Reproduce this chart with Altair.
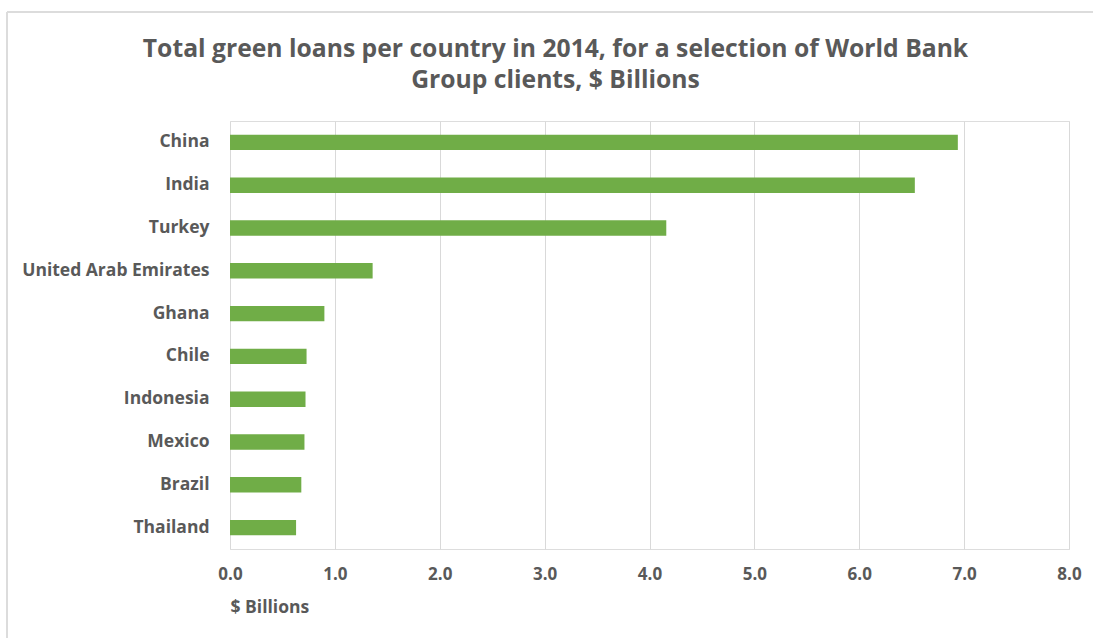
import altair as alt
import pandas as pd

countries = ["China", "India", "Turkey", "United Arab Emirates", "Ghana",
             "Chile", "Indonesia", "Mexico", "Brazil", "Thailand"]
loans = [6.94, 6.53, 4.16, 1.36, 0.90, 0.73, 0.72, 0.71, 0.68, 0.63]
x_ticks = [0, 1, 2, 3, 4, 5, 6, 7, 8]

df = pd.DataFrame({"country": countries, "loans": loans})

FONT = "Open Sans"
GREY = "#595959"

bars = alt.Chart(df).mark_bar(color="#70ad47").encode(
    x=alt.X("loans:Q",
            scale=alt.Scale(domain=[0, 8], nice=False),
            axis=alt.Axis(values=x_ticks, format=".1f", title="$ Billions",
                          titleAnchor="start", titleAlign="left",
                          titleFont=FONT, titleFontSize=17.5, titleFontWeight="bold",
                          titleColor=GREY, titlePadding=16,
                          labelFont=FONT, labelFontSize=17, labelFontWeight="bold",
                          labelColor=GREY, labelPadding=17, labelFlush=False,
                          ticks=False, domain=False,
                          grid=True, gridColor="#d9d9d9", gridWidth=1)),
    y=alt.Y("country:N", sort=countries,
            scale=alt.Scale(paddingInner=0.64, paddingOuter=0.32),
            axis=alt.Axis(title=None, ticks=False, domain=False, labelLimit=400,
                          labelFont=FONT, labelFontSize=17.5, labelFontWeight="bold",
                          labelColor=GREY, labelPadding=21)),
)

frame_v = alt.Chart(df).mark_rule(color="#dcdcdc", strokeWidth=2).encode(
    x=alt.value(-223), y=alt.value(-109), y2=alt.value(520)
)
frame_h = alt.Chart(df).mark_rule(color="#dcdcdc", strokeWidth=2).encode(
    x=alt.value(-223), x2=alt.value(870), y=alt.value(-109)
)

chart = alt.layer(frame_v, frame_h, bars).properties(
    width=839, height=428,
    autosize=alt.AutoSizeParams(type="none"),
    padding={"left": 230, "top": 121, "right": 24, "bottom": 89},
    title=alt.TitleParams(
        ["Total green loans per country in 2014, for a selection of World Bank",
         "Group clients, $ Billions"],
        font=FONT, fontSize=24.7, fontWeight="bold", color=GREY,
        anchor="middle", dx=-94, dy=108, offset=26, lineHeight=31),
).configure_view(stroke="#d0d0d0", strokeWidth=1).configure(background="white")

chart.save("out.html", embed_options={"renderer": "svg", "actions": False})
